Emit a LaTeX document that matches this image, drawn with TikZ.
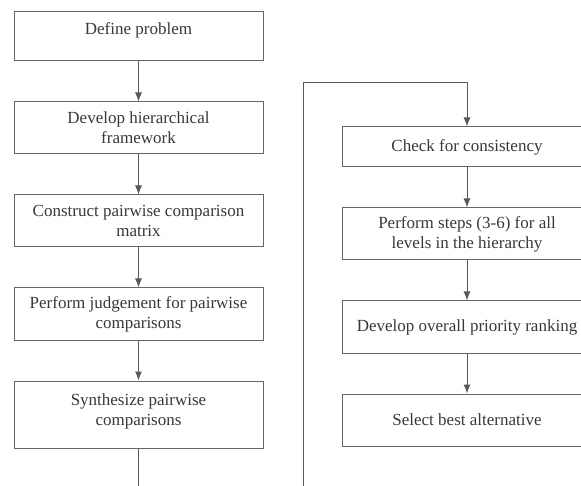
\documentclass[tikz,border=0pt]{standalone}
\usepackage{fontspec}
\setmainfont{Liberation Serif}
\usepackage{tikz}
\usetikzlibrary{arrows,arrows.meta,positioning,calc}
\tikzstyle{stage} = [draw=black!60, rectangle, line width=1pt, align=center,
    minimum width=249pt, minimum height=52pt, inner sep=2pt,
    text=black!78, font=\fontsize{17}{20}\selectfont]
\tikzstyle{coord} = [coordinate]
\tikzstyle{connector} = [-{Latex[length=9pt,width=7pt]}, line width=1pt, draw=black!65]

\begin{document}
\begin{tikzpicture}[node distance=40pt]
    \useasboundingbox (0,0) rectangle (581pt,-486pt);
    % left column
    \node (define) [stage, minimum height=49pt] at (138.5pt,-36.5pt) {Define problem\\[-5pt]};
    \node (frame) [stage, below=of define] {Develop hierarchical\\framework};
    \node (matrix) [stage, below=of frame] {Construct pairwise comparison\\matrix};
    \node (judge) [stage, below=of matrix] {Perform judgement for pairwise\\comparisons};
    \node (synth) [stage, minimum height=67pt, below=of judge] {Synthesize pairwise\\comparisons\\[-10pt]};
    % right column
    \node (check) [stage, minimum height=40pt, minimum width=250pt] at (467pt,-147pt) {Check for consistency};
    \node (levels) [stage, minimum width=250pt, below=of check] {Perform steps (3-6) for all\\levels in the hierarchy};
    \node (rank) [stage, minimum width=250pt, below=of levels] {Develop overall priority ranking};
    \node (best) [stage, minimum width=250pt, below=of rank] {Select best alternative};
    \node (low) [coord] at (303pt,-500pt) {};
    \node (high) [coord] at (303pt,-83pt) {};

    \draw [connector] (define) -- (frame);
    \draw [connector] (frame) -- (matrix);
    \draw [connector] (matrix) -- (judge);
    \draw [connector] (judge) -- (synth);
    \draw [connector] (synth.south) -- (synth.south |- low) -- (low) -- (high) -| (check.north);
    \draw [connector] (check) -- (levels);
    \draw [connector] (levels) -- (rank);
    \draw [connector] (rank) -- (best);
\end{tikzpicture}
\end{document}
